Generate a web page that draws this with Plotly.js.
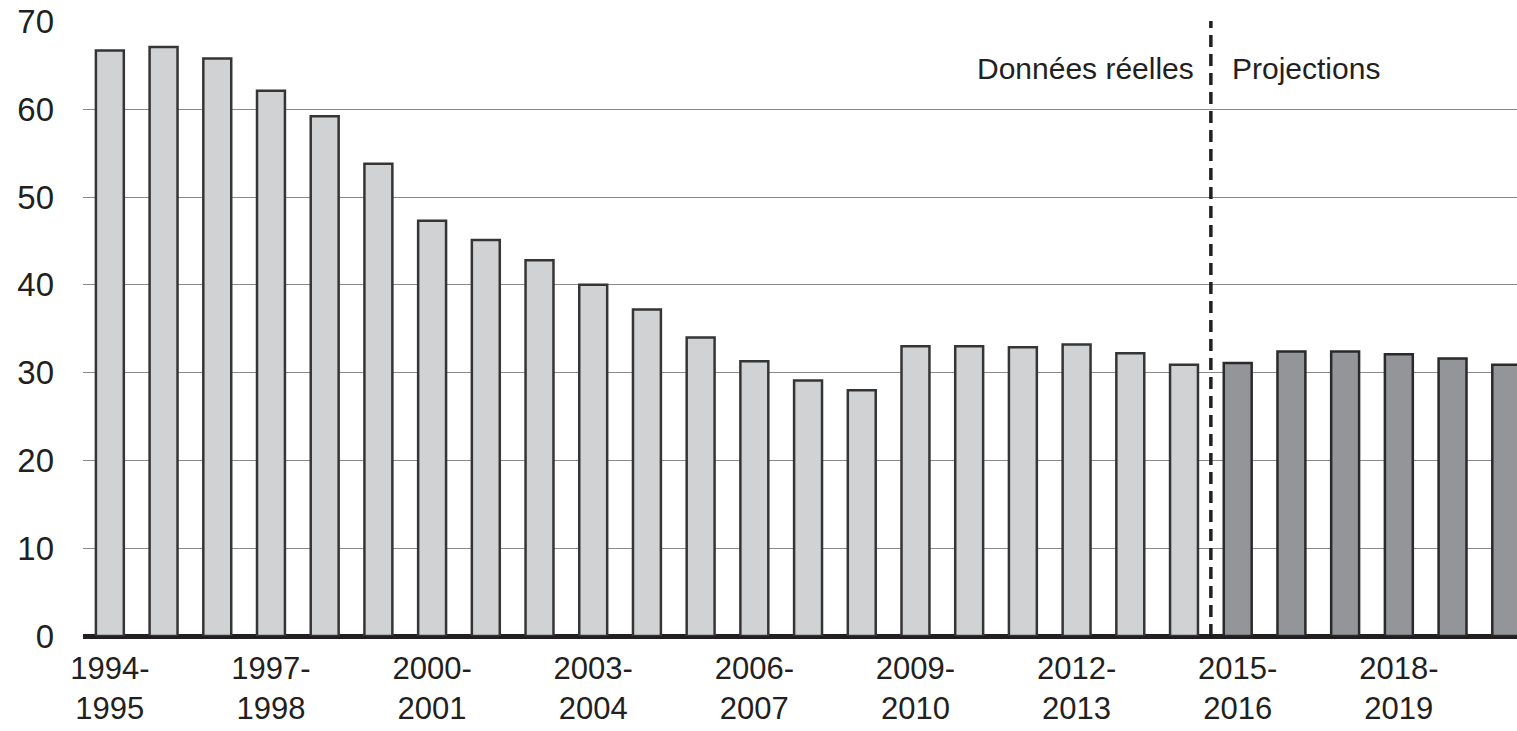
<!DOCTYPE html>
<html>
<head>
<meta charset="utf-8">
<script src="https://cdn.plot.ly/plotly-3.0.1.min.js"></script>
<style>html,body{margin:0;padding:0;background:#fff;}#chart{width:1517px;height:731px;}</style>
</head>
<body>
<div id="chart"></div>
<script>
const actualYears = ["1994-1995","1995-1996","1996-1997","1997-1998","1998-1999","1999-2000","2000-2001","2001-2002","2002-2003","2003-2004","2004-2005","2005-2006","2006-2007","2007-2008","2008-2009","2009-2010","2010-2011","2011-2012","2012-2013","2013-2014","2014-2015"];
const actualValues = [66.7,67.1,65.8,62.1,59.2,53.8,47.3,45.1,42.8,40.0,37.2,34.0,31.3,29.1,28.0,33.0,33.0,32.9,33.2,32.2,30.9];
const projYears = ["2015-2016","2016-2017","2017-2018","2018-2019","2019-2020","2020-2021"];
const projValues = [31.1,32.4,32.4,32.1,31.6,30.9];
const tickYears = ["1994-1995","1997-1998","2000-2001","2003-2004","2006-2007","2009-2010","2012-2013","2015-2016","2018-2019"];
const tickLabels = ["1994-<br>1995","1997-<br>1998","2000-<br>2001","2003-<br>2004","2006-<br>2007","2009-<br>2010","2012-<br>2013","2015-<br>2016","2018-<br>2019"];
const labelActual = "Données réelles";
const labelProj = "Projections";

const allYears = actualYears.concat(projYears);
const txtColor = "#231f20";

const traces = [
  {type:"bar", x:actualYears, y:actualValues, marker:{color:"#d1d2d4", line:{color:"#353535", width:2.5}}, hoverinfo:"x+y"},
  {type:"bar", x:projYears, y:projValues, marker:{color:"#939598", line:{color:"#2a2a2a", width:2.5}}, hoverinfo:"x+y"}
];

const layout = {
  width:1517, height:731,
  margin:{l:83, r:0, t:21, b:95},
  paper_bgcolor:"#fff", plot_bgcolor:"#fff",
  showlegend:false,
  barmode:"overlay",
  bargap:0.48,
  font:{family:"Liberation Sans, Arial, sans-serif", color:txtColor},
  xaxis:{
    type:"category", categoryorder:"array", categoryarray:allYears,
    range:[-0.5, 26.2],
    tickmode:"array", tickvals:tickYears, ticktext:tickLabels,
    tickfont:{size:31, color:txtColor},
    showgrid:false, showline:false, zeroline:false, ticks:"",
    ticklabelstandoff:11
  },
  yaxis:{
    range:[0,70.06], tickvals:[0,10,20,30,40,50,60,70],
    tickfont:{size:33, color:txtColor},
    showgrid:true, gridcolor:"#8a8a8a", gridwidth:1,
    zeroline:true, zerolinecolor:"#231f20", zerolinewidth:5,
    showline:false, ticks:"", ticklabelstandoff:28
  },
  shapes:[{type:"line", xref:"x", yref:"paper", x0:20.5, x1:20.5, y0:0, y1:1,
    line:{color:"#231f20", width:3.5, dash:"12px,7px"}}],
  annotations:[
    {xref:"x", yref:"y", x:20.5, y:64.7, text:labelActual, showarrow:false, xanchor:"right", yanchor:"middle", xshift:-15, font:{size:30, color:txtColor}},
    {xref:"x", yref:"y", x:20.5, y:64.7, text:labelProj, showarrow:false, xanchor:"left", yanchor:"middle", xshift:19, font:{size:30, color:txtColor}}
  ]
};

Plotly.newPlot("chart", traces, layout, {staticPlot:true, displayModeBar:false});
</script>
</body>
</html>
